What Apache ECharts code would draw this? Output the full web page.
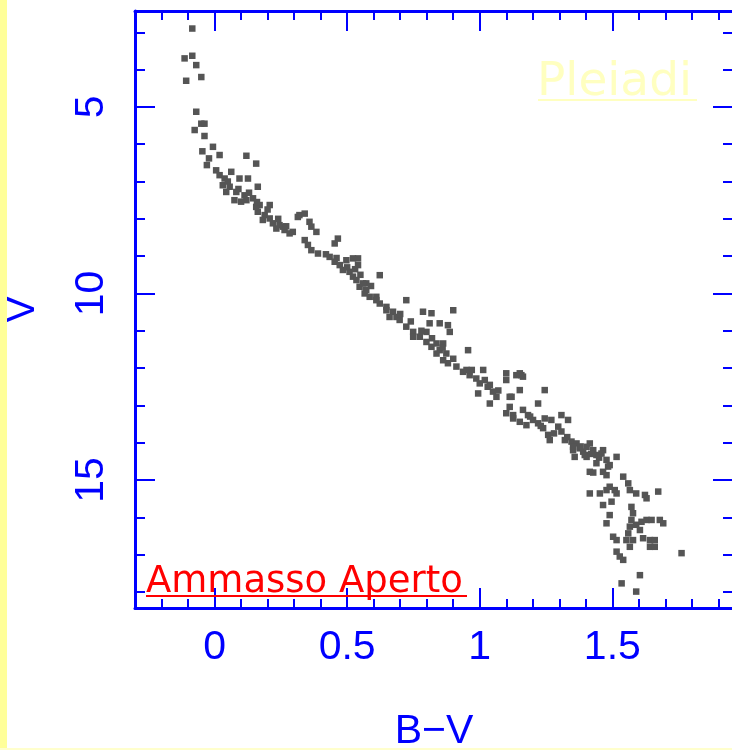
<!DOCTYPE html>
<html><head><meta charset="utf-8">
<script src="https://cdn.jsdelivr.net/npm/echarts@6/dist/echarts.min.js"></script>
<style>html,body{margin:0;padding:0;background:#fff}#c{width:732px;height:750px}</style>
</head><body><div id="c"></div>
<script>
// Pleiades colour-magnitude diagram: B-V colour and V magnitude of each star
const bv = [
-0.084,-0.113,-0.084,-0.069,-0.050,-0.107,-0.069,-0.050,-0.038,-0.075,-0.038,-0.006,-0.046,0.019,-0.021,-0.029,
0.12,0.157,0.006,0.019,0.063,0.038,0.094,0.126,0.031,0.057,0.163,0.082,0.044,0.113,0.145,0.075,0.10,0.17,0.208,
0.163,0.189,0.208,0.182,0.22,0.245,0.233,0.264,0.283,0.314,0.157,0.258,0.295,0.12,
0.32,0.34,0.358,0.365,0.384,0.34,0.352,0.365,0.39,0.465,0.453,0.434,0.453,0.472,0.497,0.522,0.541,0.541,0.484,
0.509,0.522,0.535,0.547,0.572,0.572,0.623,0.61,0.623,0.648,0.673,0.686,
0.56,0.566,0.61,0.648,0.723,0.698,0.723,0.749,0.786,0.818,0.811,0.849,0.88,0.887,0.9,0.774,0.799,0.818,0.849,
0.874,0.88,0.837,0.862,0.956,0.912,0.937,0.962,0.987,1.013,1.019,1.038,1.05,1.063,0.994,1.038,1.10,1.10,1.138,
1.113,1.113,1.126,0.585,0.66,0.749,0.799,0.837,0.862,0.95,1.0,
1.157,1.151,1.12,1.245,1.10,1.126,1.22,1.163,1.182,1.201,1.22,1.239,1.258,1.264,1.151,1.176,1.245,1.27,1.308,
1.333,1.296,1.308,1.321,1.346,1.365,1.377,1.352,1.358,1.39,1.403,1.415,1.428,1.44,1.465,1.478,1.44,1.415,1.484,
1.516,1.465,1.478,1.541,1.151,1.163,
1.352,1.403,1.459,1.396,1.49,1.428,1.56,1.566,1.49,1.509,1.516,1.478,1.453,1.415,1.497,1.59,1.623,1.629,1.673,
1.465,1.572,1.578,1.572,1.566,1.56,1.553,1.49,1.478,1.59,1.61,1.629,1.648,1.604,1.679,1.692,1.503,1.516,1.566,
1.578,1.616,1.642,1.66,1.642,1.66,1.516,1.528,1.541,1.761,1.604,1.535,1.59,
0.05,0.09,0.13,0.16,0.20,0.24,0.27,0.42,0.46,0.50,0.53,0.55,0.59,0.70,0.74,0.78,0.82,0.86,0.90,
0.97,1.03,1.07,1.19,1.23,1.28,1.33,1.38,1.42,1.45
];
const vmag = [
2.90,3.70,3.63,3.88,4.20,4.30,5.13,5.45,5.45,5.62,5.78,6.07,6.19,6.29,6.38,6.56,
6.31,6.52,6.70,6.83,6.74,6.92,6.92,6.92,7.10,7.14,7.14,7.28,7.28,7.37,7.45,7.50,7.54,7.63,7.63,
7.81,7.90,7.99,8.03,8.12,8.17,8.26,8.30,8.39,7.95,7.68,8.21,8.35,7.50,
7.90,7.86,8.08,8.21,8.35,8.57,8.70,8.84,8.93,8.53,8.66,9.02,9.15,9.24,9.11,9.06,9.06,9.24,9.37,
9.42,9.55,9.64,9.82,9.73,9.91,9.51,10.09,10.27,10.36,10.49,10.63,
9.73,10.0,10.18,10.45,10.18,10.71,10.89,11.03,10.49,10.53,10.80,10.80,10.85,11.03,10.45,11.16,11.30,11.43,11.52,
11.61,11.87,11.61,11.79,11.52,11.96,12.10,12.19,12.28,12.05,12.32,12.45,12.63,12.77,12.68,12.95,12.14,12.32,12.19,
12.77,13.04,13.26,10.09,10.63,11.16,11.03,11.34,11.34,12.05,12.41,
12.19,12.59,12.77,12.59,13.21,13.35,12.95,13.12,13.26,13.39,13.48,13.61,13.79,13.93,13.44,13.53,13.35,13.39,13.26,
13.39,13.57,13.70,13.93,13.97,14.02,14.15,14.2,14.38,14.24,14.38,14.02,14.2,14.33,14.2,14.46,14.55,14.78,14.64,
14.38,14.78,14.87,14.91,12.14,12.23,
14.11,14.11,14.29,14.33,14.60,14.80,15.09,15.27,15.18,15.27,15.36,15.27,15.36,15.36,15.58,15.36,15.40,15.49,15.31,
15.67,15.72,15.89,16.07,16.25,16.43,16.61,15.94,16.16,16.2,16.12,16.07,16.07,16.34,16.07,16.16,16.52,16.61,16.79,
16.61,16.56,16.61,16.61,16.79,16.79,16.92,17.05,17.14,16.96,17.55,17.77,17.99,
7.0,7.2,7.3,7.55,7.75,8.0,8.2,8.95,9.05,9.3,9.35,9.5,9.8,10.55,10.75,11.0,11.2,11.45,11.75,
12.05,12.5,12.6,13.3,13.55,13.75,13.85,14.1,14.3,14.4
];
const xMajorTicks = [0, 0.5, 1, 1.5];
const xMinorTicks = [-0.3,-0.2,-0.1,0,0.1,0.2,0.3,0.4,0.5,0.6,0.7,0.8,0.9,1,1.1,1.2,1.3,1.4,1.5,1.6,1.7,1.8,1.9];
const yMajorTicks = [5, 10, 15];
const yMinorTicks = [3,4,5,6,7,8,9,10,11,12,13,14,15,16,17,18];
const xTitle = 'B\u2212V';
const yTitle = 'V';
const labelTop = 'Pleiadi';
const labelBottom = 'Ammasso Aperto';

const BLUE = '#0000ff';
const X_MIN = -0.3, X_MAX = 1.955, Y_MIN = 2.43, Y_MAX = 18.43;
const gridRect = {left: 135, top: 11, width: 598, height: 597, containLabel: false, outerBoundsMode: 'none'};
const tickFont = {fontSize: 41, fontFamily: 'Liberation Sans', color: BLUE};

function xAx(grid, pos, ticks, len, withLine, withLabel) {
  return {
    type: 'value', gridIndex: grid, position: pos, min: X_MIN, max: X_MAX,
    axisLine: {show: withLine, onZero: false, lineStyle: {color: BLUE, width: 3}},
    axisTick: {show: true, inside: true, length: len, customValues: ticks, lineStyle: {color: BLUE, width: 2}},
    axisLabel: withLabel ? Object.assign({show: true, margin: 19, customValues: ticks}, tickFont) : {show: false},
    splitLine: {show: false},
    name: withLabel ? xTitle : '', nameLocation: 'middle', nameGap: 103,
    nameTextStyle: {fontSize: 41, fontFamily: 'Liberation Sans', color: BLUE}
  };
}
function yAx(grid, pos, ticks, len, withLine, withLabel) {
  return {
    type: 'value', gridIndex: grid, position: pos, min: Y_MIN, max: Y_MAX, inverse: true,
    axisLine: {show: withLine, onZero: false, lineStyle: {color: BLUE, width: 3}},
    axisTick: {show: true, inside: true, length: len, customValues: ticks, lineStyle: {color: BLUE, width: 2}},
    axisLabel: withLabel ? Object.assign({show: true, margin: 23, rotate: 90, customValues: ticks}, tickFont) : {show: false},
    splitLine: {show: false},
    name: withLabel ? yTitle : '', nameLocation: 'middle', nameGap: 92, nameRotate: 90,
    nameTextStyle: {fontSize: 40, fontFamily: 'Liberation Sans', color: BLUE}
  };
}

const chart = echarts.init(document.getElementById('c'), null, {renderer: 'canvas'});
chart.setOption({
  animation: false,
  backgroundColor: '#ffffff',
  grid: [Object.assign({}, gridRect), Object.assign({}, gridRect)],
  xAxis: [
    xAx(0, 'bottom', xMajorTicks, 20, true, true),
    xAx(0, 'top', xMajorTicks, 20, true, false),
    xAx(1, 'bottom', xMinorTicks, 9, false, false),
    xAx(1, 'top', xMinorTicks, 9, false, false)
  ],
  yAxis: [
    yAx(0, 'left', yMajorTicks, 20, true, true),
    yAx(0, 'right', yMajorTicks, 20, true, false),
    yAx(1, 'left', yMinorTicks, 10, false, false),
    yAx(1, 'right', yMinorTicks, 10, false, false)
  ],
  series: [{
    type: 'scatter', xAxisIndex: 0, yAxisIndex: 0,
    symbol: 'rect', symbolSize: 6.5,
    itemStyle: {color: '#555555', opacity: 1},
    data: bv.map((b, i) => [b, vmag[i]]),
    z: 3
  }],
  graphic: [
    {type: 'rect', left: 0, top: 0, z: 10, shape: {width: 7, height: 750}, style: {fill: '#ffff99'}},
    {type: 'rect', left: 0, top: 748, z: 10, shape: {width: 732, height: 2}, style: {fill: '#ffffcc'}},
    {type: 'text', x: 537, y: 83, z: 20, style: {text: labelTop, fill: '#ffffc0', fontSize: 47, fontFamily: 'DejaVu Sans', verticalAlign: 'middle'}},
    {type: 'line', z: 20, shape: {x1: 538, y1: 100, x2: 697, y2: 100}, style: {stroke: '#ffffc0', lineWidth: 2}},
    {type: 'text', x: 146, y: 582, z: 20, style: {text: labelBottom, fill: '#ff0000', fontSize: 37, fontFamily: 'DejaVu Sans', verticalAlign: 'middle'}},
    {type: 'line', z: 20, shape: {x1: 146, y1: 596, x2: 467, y2: 596}, style: {stroke: '#ff0000', lineWidth: 2}}
  ]
});
</script></body></html>
